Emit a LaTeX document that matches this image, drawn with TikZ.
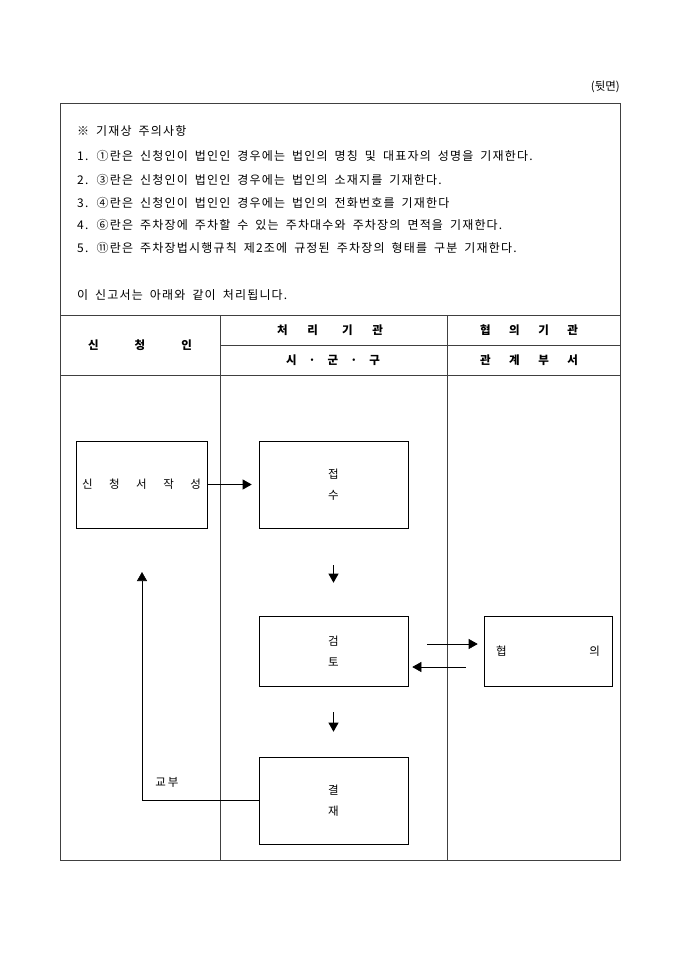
\documentclass[tikz,border=0pt]{standalone}
\usepackage{fontspec}
\newfontfamily\kr{Noto Sans CJK KR}[LetterSpace=10, WordSpace=1.8]
\newfontfamily\krh{Noto Sans CJK KR}
\usetikzlibrary{arrows.meta,positioning}
\tikzset{
  frame/.style={draw=black!75, line width=0.8pt},
  stepbox/.style={draw=black, line width=0.6pt, align=center, inner sep=0pt},
  note/.style={anchor=west, inner sep=0pt, font=\kr\fontsize{12}{14}\selectfont},
  head/.style={inner sep=0pt, font=\krh\bfseries\fontsize{11.5}{13}\selectfont},
  label/.style={inner sep=0pt, font=\krh\fontsize{11.5}{13}\selectfont},
  flow/.style={-{Triangle[length=9pt,width=10pt]}, line width=0.6pt, draw=black}
}
\begin{document}
\begin{tikzpicture}[x=1pt, y=-1pt]
  \useasboundingbox (0,0) rectangle (680,962);

  % table frame
  \draw[frame] (60,103) rectangle (620,860);
  \draw[frame] (60,315) -- (620,315);
  \draw[frame] (220,345) -- (620,345);
  \draw[frame] (60,375) -- (620,375);
  \draw[frame] (220,315) -- (220,860);
  \draw[frame] (447,315) -- (447,860);

  \node[label, anchor=east] (side) at (620,87) {(뒷면)};

  % notes
  \node[note] (n0) at (77,131) {※ 기재상 주의사항};
  \node[note] (n1) at (77,156) {1. ①란은 신청인이 법인인 경우에는 법인의 명칭 및 대표자의 성명을 기재한다.};
  \node[note] (n2) at (77,180) {2. ③란은 신청인이 법인인 경우에는 법인의 소재지를 기재한다.};
  \node[note] (n3) at (77,203) {3. ④란은 신청인이 법인인 경우에는 법인의 전화번호를 기재한다};
  \node[note] (n4) at (77,225) {4. ⑥란은 주차장에 주차할 수 있는 주차대수와 주차장의 면적을 기재한다.};
  \node[note] (n5) at (77,248) {5. ⑪란은 주차장법시행규칙 제2조에 규정된 주차장의 형태를 구분 기재한다.};
  \node[note] (n6) at (77,295) {이 신고서는 아래와 같이 처리됩니다.};

  % header
  \node[head] (h1) at (140,345) {\makebox[104pt]{신\hfill 청\hfill 인}};
  \node[head] (h2) at (330,330) {\makebox[106pt]{처\hfill 리\hspace{24pt}기\hfill 관}};
  \node[head] (h3) at (333,360) {\makebox[94pt]{시\hfill ·\hfill 군\hfill ·\hfill 구}};
  \node[head] (h4) at (529,330) {\makebox[98pt]{협\hfill 의\hfill 기\hfill 관}};
  \node[head] (h5) at (529,360) {\makebox[98pt]{관\hfill 계\hfill 부\hfill 서}};

  % steps
  \node[stepbox, label, minimum width=131pt, minimum height=87pt] (a) at (141.5,484.5) {\makebox[119pt]{신\hfill 청\hfill 서\hfill 작\hfill 성}};
  \node[stepbox, label, minimum width=149pt, minimum height=87pt] (b) at (333.5,484.5) {접\\[8pt]수};
  \node[stepbox, label, minimum width=149pt, minimum height=70pt] (c) at (333.5,651) {검\\[8pt]토};
  \node[stepbox, label, minimum width=128pt, minimum height=70pt, text width=104pt] (d) at (548,651) {협\hfill 의};
  \node[stepbox, label, minimum width=149pt, minimum height=87pt] (e) at (333.5,800.5) {결\\[8pt]재};
  \node[label] (give) at (167,782) {교\,부};
  \coordinate (ret) at (142,572);

  \draw[flow, shorten >=7pt] (a) -- (b);
  \draw[flow, shorten <=37pt, shorten >=33pt] (b) -- (c);
  \draw[flow, shorten <=19pt, shorten >=6pt] ([yshift=7pt]c.east) -- ([yshift=7pt]d.west);
  \draw[flow, shorten <=18pt, shorten >=4pt] ([yshift=-16pt]d.west) -- ([yshift=-16pt]c.east);
  \draw[flow, shorten <=26pt, shorten >=25pt] (c) -- (e);
  \draw[flow] (e.west) -| (ret);
\end{tikzpicture}
\end{document}
